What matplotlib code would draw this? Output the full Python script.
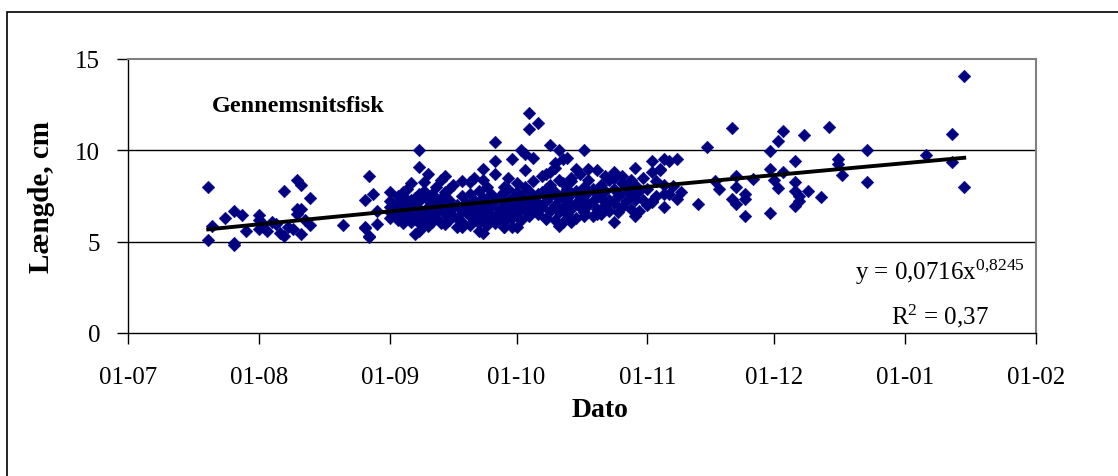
import numpy as np
import matplotlib
matplotlib.use("Agg")
import matplotlib.pyplot as plt
from matplotlib.patches import Rectangle

# ---- data: days after 1 July, fish length (cm) ----
season_start = "2003-07-01"
day_offset = [
    19, 19, 20, 23, 25, 27, 25, 25, 28, 31, 31, 32, 31, 33, 35, 36, 37, 37, 40, 41,
    43, 40, 41, 40, 41, 43, 39, 34, 38, 42,
    51, 56, 57, 56, 56, 57, 58, 59, 59, 57,
    62, 65, 62, 64, 65, 67, 69, 69, 69, 70, 71, 73, 75, 76, 69, 70, 68, 71, 75, 79,
    82, 81, 84, 84, 87, 87, 83, 89, 91, 91, 93, 94, 96, 95, 97, 95, 90, 89, 100, 102,
    103, 101, 104, 99, 101, 106, 105, 108, 109, 111, 114, 115, 117, 120, 124, 127, 126, 124, 120, 120,
    115, 111, 108, 105, 102, 99, 92, 89, 84, 120, 127,
    124, 126, 128, 130, 129, 128, 130, 124, 135, 137, 139, 140, 143, 144, 144, 143, 144, 146, 146, 148,
    146, 152, 152, 154, 155, 152, 155, 153, 154, 158, 158, 158, 159, 161, 158, 159, 160, 164, 166, 168,
    168, 169, 175, 175, 189, 195, 195, 198, 198,
    62, 62, 62, 63, 63, 64, 64, 64, 65, 65, 65, 66, 66, 66, 67, 67, 67, 67, 68, 68,
    68, 69, 69, 69, 69, 70, 70, 70, 70, 71, 71, 71, 72, 72, 72, 72, 73, 73, 73, 74,
    74, 74, 74, 75, 75, 75, 76, 76, 76, 77, 77, 77, 78, 78, 78, 79, 79, 79, 79, 80,
    80, 81, 81, 81, 81, 82, 82, 82, 83, 83, 83, 83, 84, 84, 84, 85, 85, 85, 85, 86,
    86, 86, 87, 87, 87, 87, 88, 88, 88, 89, 89, 89, 89, 90, 90, 90, 91, 91, 91,
    92, 92, 92, 92, 93, 93, 93, 94, 94, 94, 94, 95, 95, 95, 96, 96, 96, 97, 97, 97,
    98, 98, 98, 99, 99, 99, 100, 100, 100, 100, 101, 101, 101, 102, 102, 102, 103, 103, 103, 103,
    104, 104, 104, 105, 105, 105, 106, 106, 106, 107, 107, 107, 108, 108, 108, 109, 109, 109, 110, 110,
    110, 111, 111, 112, 112, 112, 113, 113, 113, 114, 114, 115, 115, 115, 116, 116, 117, 117, 117, 118,
    118, 119, 119, 119, 120, 120, 121, 121, 122, 122, 123, 123, 125, 125, 127, 127, 131,
]
length_cm = [
    8.0, 5.1, 5.85, 6.3, 6.7, 6.45, 4.8, 4.95, 5.6, 6.45, 6.2, 5.97, 5.7, 5.6, 5.97, 5.5, 7.8, 5.33, 8.35, 8.1,
    7.4, 6.8, 6.8, 6.5, 5.4, 5.9, 5.7, 6.1, 5.8, 6.2,
    5.9, 5.8, 5.33, 5.75, 7.3, 8.6, 7.6, 5.97, 6.7, 5.25,
    7.7, 7.7, 6.6, 6.97, 6.35, 7.3, 7.6, 10.0, 9.1, 8.25, 8.7, 8.0, 8.6, 7.9, 5.6, 5.9, 5.4, 5.87, 5.97, 5.78,
    8.5, 8.25, 9.0, 8.4, 10.47, 9.43, 5.6, 5.78, 9.5, 5.78, 10.0, 9.8, 9.6, 12.04, 11.5, 11.17, 8.5, 7.97, 10.3, 10.0,
    9.5, 9.3, 9.6, 8.7, 9.06, 9.0, 8.5, 10.0, 9.0, 8.9, 8.35, 8.8, 8.6, 9.06, 9.43, 9.5, 9.0, 7.25, 7.3, 6.4,
    6.06, 6.5, 6.4, 6.06, 5.87, 6.24, 5.8, 5.78, 5.5, 7.9, 7.6,
    8.8, 8.95, 9.43, 9.5, 8.06, 7.6, 7.36, 7.15, 7.06, 10.16, 8.3, 7.9, 11.2, 8.57, 7.97, 7.33, 7.06, 7.6, 7.33, 8.43,
    6.39, 6.55, 9.98, 10.5, 11.08, 8.98, 8.83, 8.35, 7.92, 9.43, 8.25, 7.8, 7.5, 7.8, 6.93, 7.25, 10.84, 7.47, 11.3, 9.5,
    9.25, 8.65, 10.03, 8.28, 9.74, 10.9, 9.34, 7.97, 14.05,
    6.3, 6.9, 7.2, 6.5, 7.0, 6.2, 6.8, 7.5, 6.0, 6.6, 7.1, 6.4, 7.3, 7.9, 6.1, 6.7, 6.9, 8.2, 6.3, 7.0,
    7.4, 6.0, 6.5, 6.8, 7.2, 6.2, 6.6, 7.5, 7.8, 6.4, 6.9, 7.3, 6.1, 6.7, 7.1, 7.6, 6.3, 6.6, 7.2, 6.0,
    6.8, 7.4, 8.4, 6.5, 7.0, 7.7, 6.2, 6.6, 7.3, 6.4, 6.9, 8.1, 5.8, 6.3, 7.0, 6.1, 6.7, 7.5, 8.3, 6.6,
    7.1, 5.9, 6.4, 6.9, 7.6, 6.2, 6.8, 7.3, 6.0, 6.5, 7.0, 7.8, 6.3, 6.7, 7.4, 5.9, 6.6, 7.1, 8.0, 6.2,
    6.9, 7.6, 6.0, 6.4, 7.2, 8.7, 6.3, 6.8, 7.5, 6.1, 6.6, 7.0, 7.7, 6.5, 7.2, 7.9, 6.3, 6.8, 7.4,
    6.6, 7.1, 7.7, 8.2, 6.2, 6.9, 7.5, 6.7, 7.3, 8.0, 8.9, 6.4, 7.0, 7.8, 6.8, 7.4, 8.3, 6.5, 7.1, 7.6,
    6.9, 7.7, 8.6, 6.3, 7.2, 7.9, 6.7, 7.5, 8.1, 8.8, 6.2, 7.0, 7.7, 6.6, 7.4, 8.4, 6.1, 6.9, 7.6, 8.2,
    6.5, 7.2, 7.9, 6.8, 7.6, 8.3, 6.3, 7.1, 7.8, 6.9, 7.5, 8.7, 6.6, 7.3, 8.0, 7.0, 7.7, 8.4, 6.4, 7.2,
    7.9, 6.8, 7.6, 6.5, 7.4, 8.1, 7.0, 7.8, 8.6, 6.7, 7.3, 7.1, 7.9, 8.5, 6.6, 7.5, 6.9, 7.7, 8.2, 7.2,
    8.0, 6.8, 7.6, 8.4, 7.4, 8.1, 6.7, 7.8, 7.3, 8.5, 7.0, 7.9, 7.5, 8.3, 6.9, 8.1, 7.7,
]
trend_coef = 0.0716
trend_exp = 0.8245
r_squared = "0,37"
x_ticks = ["2003-07-01", "2003-08-01", "2003-09-01", "2003-10-01",
           "2003-11-01", "2003-12-01", "2004-01-01", "2004-02-01"]
x_tick_labels = ["01-07", "01-08", "01-09", "01-10", "01-11", "01-12", "01-01", "01-02"]
y_ticks = [0, 5, 10, 15]

# ---- derived ----
start = np.datetime64(season_start)
dates = start + np.array(day_offset).astype("timedelta64[D]")
year_start = np.datetime64("2003-01-01")
trend_dates = np.arange(dates.min(), dates.max() + np.timedelta64(1, "D"))
doy = (trend_dates - year_start).astype(int) + 1
trend_vals = trend_coef * doy.astype(float) ** trend_exp

serif = ["Liberation Serif", "DejaVu Serif"]
plt.rcParams["font.family"] = serif
plt.rcParams["mathtext.fontset"] = "custom"
plt.rcParams["mathtext.rm"] = "Liberation Serif"
plt.rcParams["mathtext.it"] = "Liberation Serif:italic"
plt.rcParams["mathtext.bf"] = "Liberation Serif:bold"

fig = plt.figure(figsize=(11.18, 4.77), dpi=100)
ax = fig.add_axes([128 / 1118, 1 - 334 / 477, (1036 - 128) / 1118, (334 - 60) / 477])

# outer chart border (left and top visible)
fig.patches.append(Rectangle((7 / 1118, -0.1), 1.2, 1 - 13 / 477 + 0.1, transform=fig.transFigure,
                             fill=False, edgecolor="black", linewidth=1.2))

for yv in [5, 10]:
    ax.axhline(yv, color="black", linewidth=1.0, zorder=1)

ax.scatter(dates, length_cm, marker="D", s=42, color="#000080", edgecolors="#000080",
           linewidths=0.3, zorder=3)
ax.plot(trend_dates, trend_vals, color="black", linewidth=2.8, zorder=4)

ax.set_xlim(np.datetime64(x_ticks[0]), np.datetime64(x_ticks[-1]))
ax.set_ylim(0, 15)
ax.set_xticks([np.datetime64(t) for t in x_ticks])
ax.set_xticklabels(x_tick_labels)
ax.set_yticks(y_ticks)
ax.tick_params(axis="both", direction="out", length=8, width=1, colors="black", labelsize=18)
ax.tick_params(axis="y", pad=12)
ax.tick_params(axis="x", pad=16)

for s in ["left", "bottom"]:
    ax.spines[s].set_color("black")
    ax.spines[s].set_linewidth(1.0)
for s in ["right", "top"]:
    ax.spines[s].set_color("#808080")
    ax.spines[s].set_linewidth(1.5)

ax.set_xlabel("Dato", fontsize=20, fontweight="bold")
ax.xaxis.set_label_coords((600 - 128) / 908, (334 - 411) / 274)
ax.xaxis.label.set_va("center")
ax.set_ylabel("Længde, cm", fontsize=21, fontweight="bold")
ax.yaxis.set_label_coords((42 - 128) / 908, (334 - 197) / 274)
ax.yaxis.label.set_va("center")

ax.text(212 / 1118, 1 - 106 / 477, "Gennemsnitsfisk", transform=fig.transFigure,
        fontsize=17.5, fontweight="bold", va="center", ha="left")
ax.text(940 / 1118, 1 - 272 / 477, r"y = 0,0716x$^{\mathrm{0{,}8245}}$", transform=fig.transFigure,
        fontsize=18, va="center", ha="center")
ax.text(940 / 1118, 1 - 316 / 477, r"R$^{\mathrm{2}}$ = " + r_squared, transform=fig.transFigure,
        fontsize=18, va="center", ha="center")

fig.savefig("out.png", dpi=100)
